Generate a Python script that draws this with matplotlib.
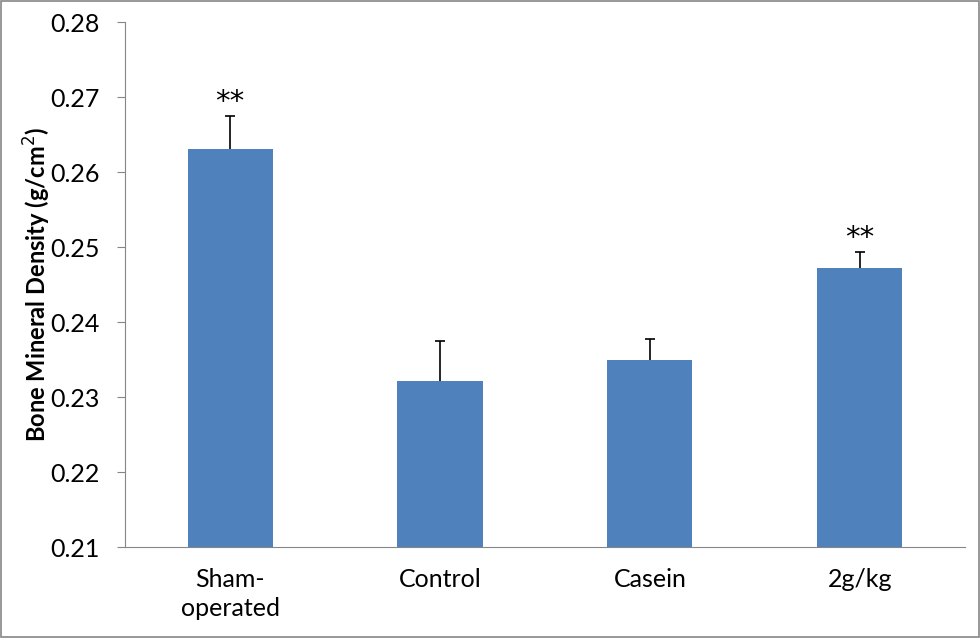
import numpy as np
import matplotlib.pyplot as plt
from matplotlib.patches import Rectangle

groups = ["Sham-\noperated", "Control", "Casein", "2g/kg"]
bmd = [0.2631, 0.2321, 0.2349, 0.2472]
sem = [0.0044, 0.0054, 0.0028, 0.0021]
marks = ["**", "", "", "**"]
yticks = [0.21, 0.22, 0.23, 0.24, 0.25, 0.26, 0.27, 0.28]

plt.rcParams['font.family'] = ['Lato', 'DejaVu Sans']

fig = plt.figure(figsize=(9.8, 6.38), dpi=100)
ax = fig.add_axes([0.1276, 0.1426, 0.857, 0.8229])

x = np.arange(len(groups))
ax.bar(x, bmd, width=0.405, color='#4f81bd', zorder=2)
_, caps, _ = ax.errorbar(x, bmd, yerr=[np.zeros(len(sem)), sem], fmt='none', ecolor='black',
                         elinewidth=1.2, capsize=3.5, capthick=1.2, zorder=3)
caps[0].set_visible(False)  # only the upper cap
for xi, v, e, m in zip(x, bmd, sem, marks):
    if m:
        ax.text(xi, v + e + 0.0008, m, ha='center', va='baseline', fontsize=21,
                family='DejaVu Sans')

ax.set_xlim(-0.5, len(groups) - 0.5)
ax.set_ylim(0.21, 0.28)
ax.set_yticks(yticks)
ax.set_yticklabels(["%.2f" % t for t in yticks], fontsize=18)
ax.set_xticks(x)
ax.set_xticklabels(groups, fontsize=18, linespacing=1.3, va='top')
ax.tick_params(axis='x', length=0, pad=15)
ax.tick_params(axis='y', length=6, color='#868686', pad=12)
for s in ['top', 'right']:
    ax.spines[s].set_visible(False)
ax.spines['left'].set_color('#868686')
ax.spines['bottom'].set_color('#868686')
ax.set_ylabel("Bone Mineral Density (g/cm$^2$)", fontsize=17, fontweight='bold', labelpad=-1.5)

fig.patches.append(Rectangle((0.001, 0.001), 0.998, 0.997, transform=fig.transFigure,
                             fill=False, edgecolor='#868686', linewidth=1.2))

fig.savefig("out.png", dpi=100)
